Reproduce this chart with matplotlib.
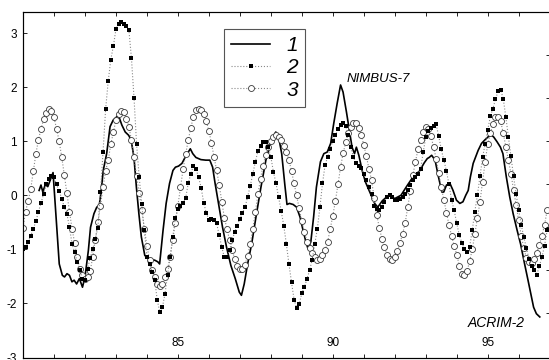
import numpy as np
import matplotlib
matplotlib.use("Agg")
import matplotlib.pyplot as plt
from matplotlib.lines import Line2D

plt.rcParams['font.family'] = ['Liberation Sans', 'DejaVu Sans']
plt.rcParams['axes.unicode_minus'] = False

# ---- data ----
start_year = 80.0
# series 2 (filled squares), monthly values from 1980.0
s2_values = [
    -0.99, -0.96, -0.86, -0.75, -0.62, -0.48, -0.30, -0.14, 0.03, 0.20, 0.30, 0.35,
    0.33, 0.20, 0.08, -0.06, -0.22, -0.34, -0.59, -0.90, -1.05, -1.24, -1.39, -1.54,
    -1.56, -1.36, -1.16, -1.00, -0.80, -0.60, 0.06, 0.80, 1.59, 2.11, 2.51, 2.76,
    3.07, 3.17, 3.20, 3.17, 3.14, 3.06, 2.54, 1.80, 0.94, 0.34, -0.17, -0.65,
    -1.14, -1.27, -1.42, -1.56, -1.94, -2.16, -2.07, -1.82, -1.47, -1.14, -0.77, -0.42,
    -0.25, -0.19, -0.15, -0.05, 0.22, 0.40, 0.54, 0.48, 0.34, 0.14, -0.14, -0.33,
    -0.45, -0.44, -0.46, -0.52, -0.74, -0.96, -1.15, -1.14, -1.02, -0.83, -0.68, -0.56,
    -0.43, -0.33, -0.22, -0.03, 0.17, 0.40, 0.62, 0.82, 0.91, 0.98, 0.99, 0.89,
    0.71, 0.43, 0.22, -0.03, -0.29, -0.56, -0.90, -1.27, -1.61, -1.93, -2.08, -2.01,
    -1.81, -1.70, -1.54, -1.39, -1.19, -0.90, -0.62, -0.22, 0.22, 0.56, 0.71, 0.86,
    1.00, 1.11, 1.22, 1.30, 1.33, 1.28, 1.12, 0.89, 0.70, 0.60, 0.55, 0.50,
    0.40, 0.28, 0.15, 0.03, -0.19, -0.25, -0.28, -0.22, -0.12, -0.03, 0.01, -0.03,
    -0.08, -0.09, -0.06, -0.03, 0.02, 0.09, 0.19, 0.28, 0.34, 0.40, 0.48, 0.80,
    1.07, 1.19, 1.25, 1.29, 1.31, 1.10, 0.85, 0.65, 0.45, 0.20, -0.09, -0.28,
    -0.52, -0.74, -0.88, -1.00, -1.05, -0.95, -0.65, -0.30, 0.00, 0.35, 0.70, 0.95,
    1.20, 1.46, 1.60, 1.78, 1.92, 1.95, 1.79, 1.45, 1.08, 0.72, 0.35, 0.02,
    -0.28, -0.55, -0.78, -0.98, -1.18, -1.30, -1.38, -1.47, -1.31, -1.14, -0.93, -0.65,
]
# series 3 (open circles), monthly values from 1980.0
s3_values = [
    -0.60, -0.30, -0.10, 0.12, 0.45, 0.77, 1.03, 1.23, 1.41, 1.52, 1.59, 1.56,
    1.44, 1.23, 1.00, 0.71, 0.38, 0.04, -0.30, -0.62, -0.88, -1.14, -1.36, -1.48,
    -1.55, -1.52, -1.40, -1.15, -0.82, -0.50, -0.20, 0.15, 0.45, 0.65, 0.94, 1.17,
    1.39, 1.50, 1.56, 1.54, 1.42, 1.27, 1.02, 0.71, 0.36, 0.04, -0.28, -0.62,
    -0.93, -1.20, -1.38, -1.51, -1.64, -1.67, -1.64, -1.51, -1.36, -1.14, -0.83, -0.51,
    -0.19, 0.15, 0.48, 0.76, 1.02, 1.25, 1.45, 1.57, 1.59, 1.57, 1.50, 1.37,
    1.19, 0.96, 0.71, 0.46, 0.19, -0.12, -0.42, -0.62, -0.83, -1.02, -1.17, -1.30,
    -1.36, -1.36, -1.28, -1.12, -0.90, -0.62, -0.30, 0.02, 0.31, 0.55, 0.75, 0.90,
    1.00, 1.07, 1.11, 1.08, 1.02, 0.92, 0.80, 0.65, 0.45, 0.22, 0.00, -0.24,
    -0.48, -0.68, -0.86, -0.98, -1.07, -1.15, -1.19, -1.17, -1.10, -1.02, -0.86, -0.62,
    -0.38, -0.10, 0.20, 0.52, 0.78, 0.98, 1.15, 1.27, 1.33, 1.34, 1.25, 1.12,
    0.93, 0.72, 0.49, 0.28, -0.05, -0.36, -0.60, -0.80, -0.96, -1.10, -1.18, -1.20,
    -1.14, -1.03, -0.88, -0.72, -0.52, -0.22, 0.08, 0.37, 0.62, 0.85, 1.03, 1.17,
    1.27, 1.23, 1.09, 0.90, 0.68, 0.42, 0.15, -0.08, -0.32, -0.55, -0.75, -0.93,
    -1.10, -1.30, -1.45, -1.47, -1.40, -1.22, -1.00, -0.72, -0.42, -0.12, 0.25, 0.62,
    0.95, 1.15, 1.32, 1.45, 1.45, 1.37, 1.15, 0.90, 0.65, 0.40, 0.10, -0.18,
    -0.45, -0.75, -0.98, -1.16, -1.23, -1.25, -1.17, -1.06, -0.92, -0.75, -0.55, -0.28,
]
# series 1 (solid line), vertices
s1_x = [80.52, 80.58, 80.64, 80.72, 80.80, 80.88, 80.97, 81.17, 81.27, 81.34, 81.42, 81.50,
        81.58, 81.65, 81.73, 81.82, 81.92, 82.00, 82.11, 82.18, 82.29, 82.38, 82.46, 82.52,
        82.59, 82.70, 82.81, 82.91, 83.08, 83.19, 83.30, 83.41, 83.49, 83.58, 83.66, 83.74,
        83.82, 83.93, 84.03, 84.14, 84.25, 84.35, 84.41, 84.52, 84.62, 84.73, 84.84, 84.92,
        85.02, 85.13, 85.24, 85.40, 85.48, 85.58, 85.74, 85.90, 86.03, 86.12, 86.20, 86.31,
        86.44, 86.57, 86.71, 86.85, 86.98, 87.05, 87.14, 87.25, 87.38, 87.52, 87.68, 87.84,
        87.97, 88.07, 88.16, 88.25, 88.35, 88.45, 88.52, 88.60, 88.72, 88.83, 88.94, 89.04,
        89.13, 89.20, 89.29, 89.38, 89.47, 89.60, 89.71, 89.82, 89.93, 90.03, 90.14, 90.25,
        90.33, 90.44, 90.55, 90.62, 90.70, 90.76, 90.84, 90.95, 91.05, 91.20, 91.35, 91.45,
        91.60, 91.80, 92.00, 92.20, 92.40, 92.60, 92.80, 92.95, 93.05, 93.11, 93.19, 93.30,
        93.41, 93.52, 93.58, 93.67, 93.78, 93.88, 93.99, 94.10, 94.20, 94.29, 94.37, 94.44,
        94.53, 94.61, 94.69, 94.80, 94.90, 95.01, 95.12, 95.19, 95.30, 95.41, 95.49, 95.60,
        95.71, 95.82, 95.95, 96.06, 96.19, 96.30, 96.41, 96.48, 96.57, 96.68]
s1_y = [0.09, 0.19, 0.06, 0.20, 0.16, 0.28, 0.42, -1.27, -1.48, -1.51, -1.45, -1.48,
        -1.60, -1.57, -1.64, -1.54, -1.70, -1.51, -1.02, -0.59, -0.34, -0.22, -0.19, 0.06,
        0.46, 0.77, 1.27, 1.39, 1.48, 1.30, 1.17, 1.11, 1.02, 0.71, 0.15, -0.34,
        -0.77, -1.11, -1.17, -1.19, -1.20, -1.23, -1.27, -0.65, -0.15, 0.22, 0.46, 0.52,
        0.54, 0.59, 0.71, 0.86, 0.77, 0.70, 0.66, 0.65, 0.65, 0.52, 0.22, -0.15,
        -0.59, -0.96, -1.30, -1.54, -1.79, -1.85, -1.64, -1.27, -0.90, -0.40, 0.15, 0.65,
        0.93, 1.08, 1.17, 1.08, 0.77, 0.20, -0.17, -0.15, -0.17, -0.22, -0.40, -0.65,
        -0.86, -0.99, -0.86, -0.40, 0.15, 0.62, 0.77, 0.80, 0.96, 1.33, 1.70, 2.04,
        1.91, 1.54, 1.14, 0.89, 0.77, 0.89, 0.74, 0.45, 0.25, 0.05, -0.15, -0.22,
        -0.10, 0.00, -0.06, 0.00, 0.18, 0.35, 0.45, 0.60, 0.68, 0.70, 0.74, 0.65,
        0.34, 0.06, 0.06, 0.19, 0.22, 0.09, -0.09, -0.15, -0.12, 0.00, 0.09, 0.34,
        0.59, 0.71, 0.83, 0.96, 1.02, 1.08, 1.11, 1.08, 0.99, 0.89, 0.77, 0.34,
        -0.03, -0.34, -0.65, -0.90, -1.27, -1.57, -1.88, -2.07, -2.19, -2.25]

x_ticks = list(range(80, 98))
x_labels = {85: '85', 90: '90', 95: '95'}
y_ticks = [-3, -2, -1, 0, 1, 2, 3]
legend_labels = ['1', '2', '3']

# ---- figure ----
W, H = 549, 360
fig = plt.figure(figsize=(W / 100, H / 100), dpi=100)
ax = fig.add_axes([23 / W, 2.5 / H, (549.7 - 23) / W, (357.5 - 12) / H])

months2 = start_year + np.arange(len(s2_values)) / 12.0
months3 = start_year + np.arange(len(s3_values)) / 12.0

l1, = ax.plot(s1_x, s1_y, color='black', lw=1.2, zorder=3)
l3, = ax.plot(months3, s3_values, ls=':', color='#8a8a8a', lw=0.8,
              marker='o', ms=4.3, mfc='white', mec='#3a3a3a', mew=0.6, zorder=4)
l2, = ax.plot(months2, s2_values, ls=':', color='#8a8a8a', lw=0.8,
              marker='s', ms=3.4, mfc='black', mec='black', mew=0, zorder=5)

ax.set_xlim(80, 97)
ax.set_ylim(-3, 3.39)

ax.set_xticks(x_ticks)
ax.set_xticklabels([x_labels.get(t, '') for t in x_ticks])
ax.set_yticks(y_ticks)
ax.set_yticklabels([str(t) for t in y_ticks])
ax.tick_params(axis='x', direction='in', length=3, width=0.6, top=True,
               labelsize=8.5, pad=-14.5)
ax.tick_params(axis='y', direction='in', length=3, width=0.6, right=False,
               labelsize=8.5, pad=4.5)
for s in ax.spines.values():
    s.set_linewidth(0.8)
    s.set_color('#333333')

# right-side secondary scale ticks (unlabelled)
ax2 = ax.twinx()
ax2.set_ylim(-0.025, 8.0)
ax2.set_yticks(range(1, 8))
ax2.set_yticklabels([])
ax2.tick_params(axis='y', direction='in', length=3, width=0.6)

ax.text(90.45, 2.15, 'NIMBUS-7', fontsize=9.5, fontstyle='italic', va='center', ha='left')
ax.text(94.35, -2.37, 'ACRIM-2', fontsize=10, fontstyle='italic', va='center', ha='left')

h1 = Line2D([], [], color='black', lw=1.2)
h2 = Line2D([], [], ls=':', color='#8a8a8a', lw=0.8, marker='s', ms=3.4, mfc='black', mec='black', mew=0)
h3 = Line2D([], [], ls=':', color='#8a8a8a', lw=0.8, marker='o', ms=4.3, mfc='white', mec='#3a3a3a', mew=0.6)
leg = ax.legend([h1, h2, h3], legend_labels, loc='upper left',
                bbox_to_anchor=(224 / W, 1 - 29 / H), bbox_transform=fig.transFigure,
                prop={'size': 15, 'style': 'italic'}, frameon=True, fancybox=False,
                edgecolor='#555555', framealpha=1, handlelength=1.85, handletextpad=0.8,
                labelspacing=0.15, borderpad=0.35, borderaxespad=0, numpoints=1)
leg.get_frame().set_linewidth(0.8)
leg.set_zorder(10)

fig.savefig('out.png', dpi=100)
